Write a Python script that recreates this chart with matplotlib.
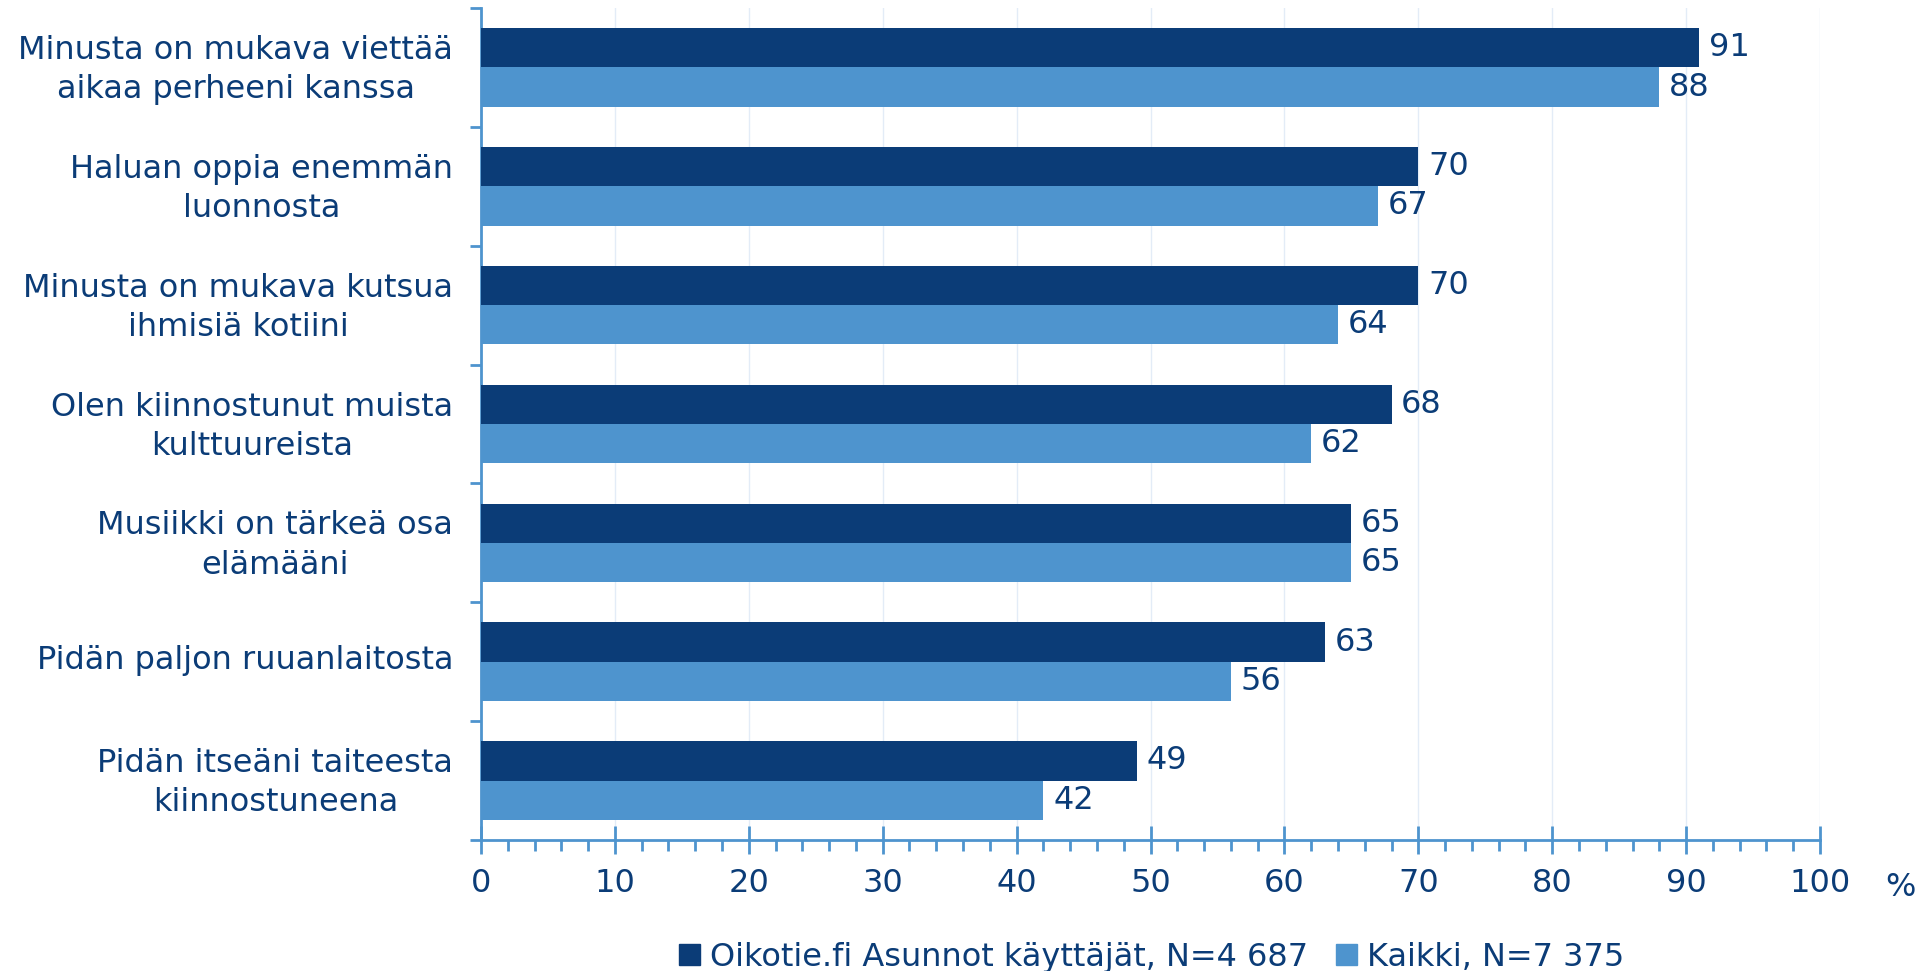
import matplotlib.pyplot as plt
import matplotlib.transforms as mtransforms
from matplotlib.patches import Patch
from matplotlib.ticker import MultipleLocator, FixedLocator
import numpy as np

categories = [
    "Minusta on mukava viettää\naikaa perheeni kanssa",
    "Haluan oppia enemmän\nluonnosta",
    "Minusta on mukava kutsua\nihmisiä kotiini",
    "Olen kiinnostunut muista\nkulttuureista",
    "Musiikki on tärkeä osa\nelämääni",
    "Pidän paljon ruuanlaitosta",
    "Pidän itseäni taiteesta\nkiinnostuneena",
]
oikotie = [91, 70, 70, 68, 65, 63, 49]
kaikki = [88, 67, 64, 62, 65, 56, 42]
series_names = ["Oikotie.fi Asunnot käyttäjät, N=4 687", "Kaikki, N=7 375"]

DARK = "#0B3C77"
LIGHT = "#4E94CE"
TEXT = "#0B3C77"
AXIS = "#4E94CE"
FS = 23

fig = plt.figure(figsize=(19.29, 9.71), dpi=100)
ax = fig.add_axes([481 / 1929, 1 - 840 / 971, (1820 - 481) / 1929, (840 - 8) / 971])

y = np.arange(len(categories))
h = 0.33
b1 = ax.barh(y - h / 2, oikotie, height=h, color=DARK, zorder=3)
b2 = ax.barh(y + h / 2, kaikki, height=h, color=LIGHT, zorder=3)

ax.bar_label(b1, padding=7, fontsize=FS, color=TEXT)
ax.bar_label(b2, padding=7, fontsize=FS, color=TEXT)

ax.set_xlim(0, 100)
ax.set_ylim(len(categories) - 0.5, -0.5)

# x axis
ax.xaxis.set_major_locator(MultipleLocator(10))
ax.xaxis.set_minor_locator(MultipleLocator(2))
ax.tick_params(axis="x", which="major", direction="inout", length=20, width=2,
               color=AXIS, labelsize=FS, labelcolor=TEXT, pad=10)
ax.tick_params(axis="x", which="minor", direction="out", length=8, width=2, color=AXIS)
ax.grid(axis="x", which="major", color="#E3ECF7", linewidth=1, zorder=0)

# y axis: labels at centers, ticks at category boundaries
ax.set_yticks(y)
ax.set_yticklabels(categories, multialignment="center", linespacing=1.35)
ax.yaxis.set_minor_locator(FixedLocator(np.arange(-0.5, len(categories) + 0.5, 1)))
ax.tick_params(axis="y", which="major", length=0, labelsize=FS, labelcolor=TEXT, pad=20)
ax.tick_params(axis="y", which="minor", direction="out", length=8, width=2, color=AXIS)
shift = mtransforms.ScaledTranslation(0, 5 / 100, fig.dpi_scale_trans)
for lbl in ax.get_yticklabels():
    lbl.set_transform(lbl.get_transform() + shift)

for side in ["top", "right"]:
    ax.spines[side].set_visible(False)
for side in ["left", "bottom"]:
    ax.spines[side].set_color(AXIS)
    ax.spines[side].set_linewidth(2)

fig.text(1900 / 1929, 1 - 887 / 971, "%", fontsize=FS, color=TEXT, ha="center", va="center")

handles = [Patch(color=DARK), Patch(color=LIGHT)]
fig.legend(handles, series_names, loc="center", bbox_to_anchor=(0.597, 1 - 957 / 971),
           ncol=2, frameon=False, fontsize=FS, labelcolor=TEXT, handlelength=0.65,
           handleheight=0.65, handletextpad=0.3, columnspacing=0.9)

fig.savefig("out.png", dpi=100)
